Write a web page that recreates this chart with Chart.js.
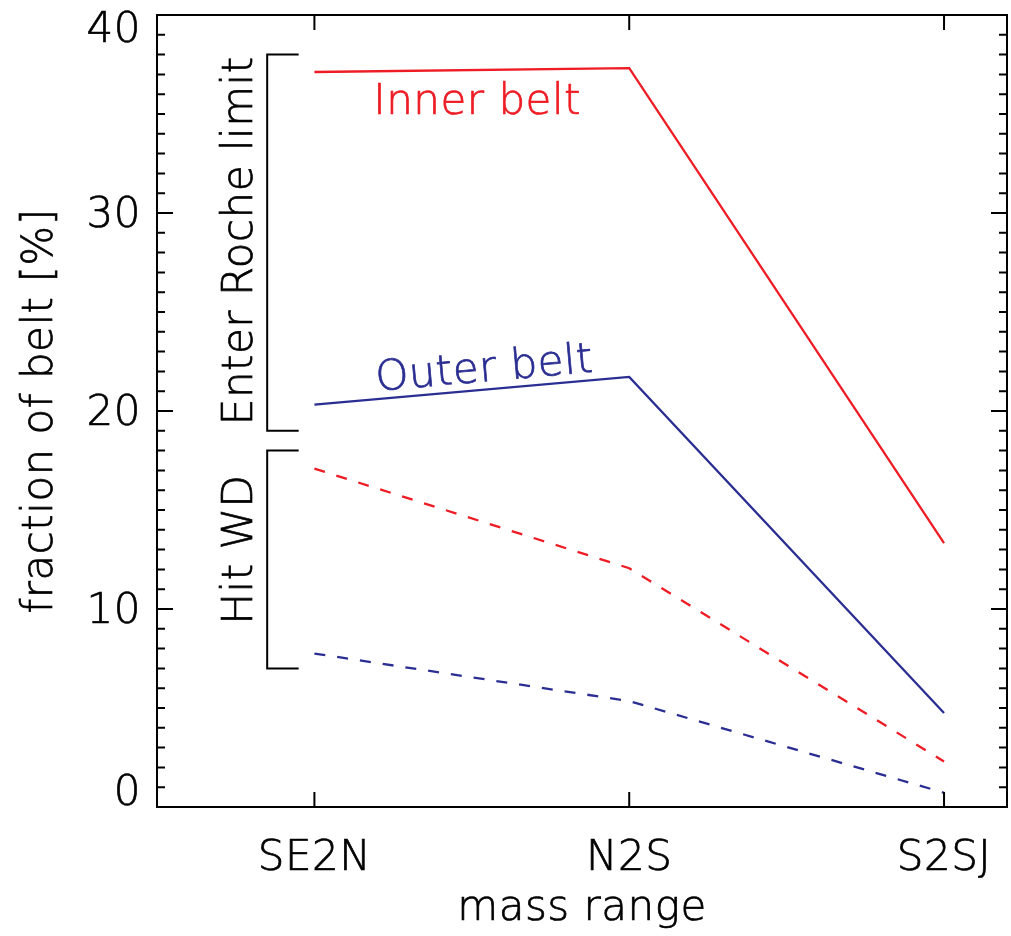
<!DOCTYPE html>
<html>
<head>
<meta charset="utf-8">
<title>fraction of belt</title>
<script src="https://cdn.jsdelivr.net/npm/chart.js@4/dist/chart.umd.min.js"></script>
<style>
  body { margin: 0; background: #fff; }
  #chart { display: block; }
</style>
</head>
<body>
<canvas id="chart" width="1011" height="936"></canvas>
<script>
// mass ranges on the x axis
const massRanges = ["SE2N", "N2S", "S2SJ"];
const yTicks = [0, 10, 20, 30, 40];

// solid lines: enter Roche limit, dashed lines: hit WD
const innerRoche = [37.12, 37.32, 13.33];
const outerRoche = [20.32, 21.72, 4.75];
const innerHitWD = [17.09, 12.06, 2.3];
const outerHitWD = [7.75, 5.35, 0.72];

// brackets next to the left axis: [x, y] corners
const rocheBracket = [[-0.05, 38], [-0.15, 38], [-0.15, 19], [-0.05, 19]];
const hitBracket = [[-0.05, 18], [-0.15, 18], [-0.15, 7], [-0.05, 7]];

const red = "rgb(238, 28, 36)";
const blue = "rgb(42, 45, 145)";
const font = '200 42px "DejaVu Sans", "Liberation Sans", sans-serif';

const toPoints = (values) => values.map((v, i) => ({ x: i, y: v }));
const bracketPoints = (corners) => corners.map((c) => ({ x: c[0], y: c[1] }));

const lineSet = (label, values, color, dashed) => ({
  label,
  data: toPoints(values),
  borderColor: color,
  borderWidth: 2.3,
  borderDash: dashed ? [11, 12] : [],
  pointRadius: 0,
  tension: 0,
  fill: false
});

const bracketSet = (label, corners) => ({
  label,
  data: bracketPoints(corners),
  borderColor: "#000",
  borderWidth: 2,
  pointRadius: 0,
  tension: 0,
  fill: false
});

// frame, inward ticks and all text
const decorations = {
  id: "decorations",
  afterDraw(chart) {
    const ctx = chart.ctx;
    const area = chart.chartArea;
    const xs = chart.scales.x;
    const ys = chart.scales.y;

    ctx.save();
    ctx.strokeStyle = "#000";
    ctx.lineWidth = 2;
    ctx.strokeRect(area.left, area.top, area.right - area.left, area.bottom - area.top);

    ctx.beginPath();
    for (let v = 0; v <= 40; v++) {
      const y = ys.getPixelForValue(v);
      const len = v % 10 === 0 ? 16 : 8;
      ctx.moveTo(area.left, y);
      ctx.lineTo(area.left + len, y);
      ctx.moveTo(area.right, y);
      ctx.lineTo(area.right - len, y);
    }
    massRanges.forEach((name, i) => {
      const x = xs.getPixelForValue(i);
      ctx.moveTo(x, area.bottom);
      ctx.lineTo(x, area.bottom - 15);
      ctx.moveTo(x, area.top);
      ctx.lineTo(x, area.top + 15);
    });
    ctx.stroke();

    ctx.font = font;
    ctx.letterSpacing = "0.5px";
    ctx.lineWidth = 0.7;

    // thin font, so give it a light outline to match the stroke weight
    const write = (text, x, y, color) => {
      ctx.fillStyle = color;
      ctx.strokeStyle = color;
      ctx.fillText(text, x, y);
      ctx.strokeText(text, x, y);
    };

    // y tick labels, kept inside the frame at both ends
    ctx.textAlign = "right";
    ctx.textBaseline = "middle";
    yTicks.forEach((v) => {
      let y = ys.getPixelForValue(v) + 3;
      y = Math.max(area.top + 16, Math.min(area.bottom - 13, y));
      write(String(v), 141, y, "#000");
    });

    // x tick labels
    ctx.textAlign = "center";
    ctx.textBaseline = "alphabetic";
    massRanges.forEach((name, i) => {
      write(name, xs.getPixelForValue(i), 870, "#000");
    });
    write("mass range", (area.left + area.right) / 2, 920, "#000");

    // rotated labels
    const turned = (text, x, y, angle, color) => {
      ctx.save();
      ctx.translate(x, y);
      ctx.rotate(angle);
      ctx.textAlign = "center";
      ctx.textBaseline = "alphabetic";
      write(text, 0, 0, color);
      ctx.restore();
    };
    turned("fraction of belt [%]", 52, (area.top + area.bottom) / 2, -Math.PI / 2, "#000");
    turned("Enter Roche limit", xs.getPixelForValue(-0.197), ys.getPixelForValue(28.6), -Math.PI / 2, "#000");
    turned("Hit WD", xs.getPixelForValue(-0.197), ys.getPixelForValue(13.0), -Math.PI / 2, "#000");

    // series labels
    write("Inner belt", xs.getPixelForValue(0.517), ys.getPixelForValue(35.0), red);

    const dx = xs.getPixelForValue(1) - xs.getPixelForValue(0);
    const dy = ys.getPixelForValue(outerRoche[1]) - ys.getPixelForValue(outerRoche[0]);
    turned("Outer belt", xs.getPixelForValue(0.543), ys.getPixelForValue(21.5), Math.atan2(dy, dx), blue);

    ctx.restore();
  }
};

const config = {
  type: "line",
  data: {
    datasets: [
      lineSet("Inner belt", innerRoche, red, false),
      lineSet("Outer belt", outerRoche, blue, false),
      lineSet("Inner belt hit WD", innerHitWD, red, true),
      lineSet("Outer belt hit WD", outerHitWD, blue, true),
      bracketSet("Enter Roche limit", rocheBracket),
      bracketSet("Hit WD", hitBracket)
    ]
  },
  options: {
    responsive: false,
    animation: false,
    layout: { padding: { left: 157, top: 15, right: 4, bottom: 129 } },
    plugins: {
      legend: { display: false },
      tooltip: { enabled: false }
    },
    scales: {
      x: { type: "linear", min: -0.5, max: 2.2, display: false },
      y: { type: "linear", min: 0, max: 40, display: false }
    }
  },
  plugins: [decorations]
};

const myChart = document.getElementById("chart");
const chart = new Chart(myChart, config);
</script>
</body>
</html>
